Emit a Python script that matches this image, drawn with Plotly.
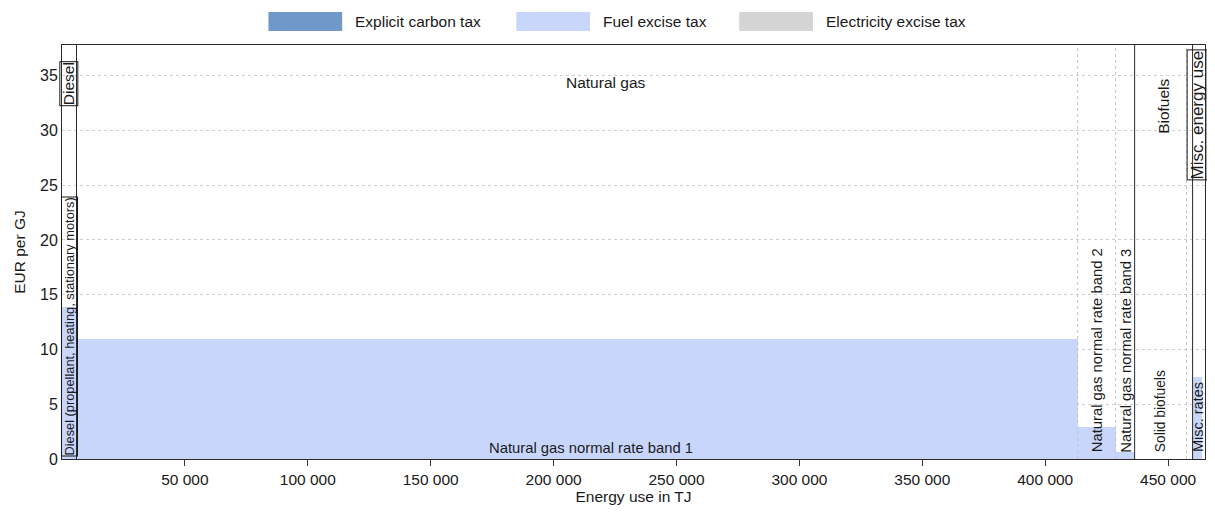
import numpy as np
import plotly.graph_objects as go

# ---------------- data ----------------
segments = ["Diesel (propellant, heating, stationary motors)",
            "Natural gas normal rate band 1",
            "Natural gas normal rate band 2",
            "Natural gas normal rate band 3",
            "Solid biofuels",
            "Other biofuels",
            "Misc. rates"]
segment_labels = ["Diesel (propellant, heating, stationary motors)",
                  "Natural gas normal rate band 1",
                  "Natural gas normal rate band 2",
                  "Natural gas normal rate band 3",
                  "Solid biofuels",
                  "",
                  "Misc. rates"]
segment_category = ["Diesel", "Natural gas", "Natural gas", "Natural gas",
                    "Biofuels", "Biofuels", "Misc. energy use"]
energy_tj = [5900, 407300, 15450, 7720, 21140, 2440, 4000]
carbon_tax = [0, 0, 0, 0, 0, 0, 0]
fuel_excise_tax = [13.9, 11.0, 2.95, 0.6, 0, 0, 7.5]
electricity_tax = [0, 0, 0, 0, 0, 0, 0]

x_tick_vals = [50000, 100000, 150000, 200000, 250000, 300000, 350000, 400000, 450000]
x_tick_text = ["50 000", "100 000", "150 000", "200 000", "250 000",
               "300 000", "350 000", "400 000", "450 000"]
y_tick_vals = [0, 5, 10, 15, 20, 25, 30, 35]

legend_names = ["Explicit carbon tax", "Fuel excise tax", "Electricity excise tax"]
colors = ["#7098c8", "#c8d6fc", "#d4d4d4"]

# ---------------- geometry from data ----------------
w = np.array(energy_tj, dtype=float)
ends = np.cumsum(w)
starts = ends - w
mids = starts + w / 2
x_max = 465000
y_max = 37.8

FONT = "Liberation Sans, Arial, sans-serif"
TXT = "#1a1a1a"

fig = go.Figure()
for name, vals, col in zip(legend_names, [carbon_tax, fuel_excise_tax, electricity_tax], colors):
    fig.add_trace(go.Bar(x=mids, y=vals, width=w, name=name,
                         marker=dict(color=col, line=dict(width=0)),
                         showlegend=False, hovertext=segments))

shapes = []
annotations = []
# vertical separators
for i in range(len(segments) - 1):
    solid = segment_category[i] != segment_category[i + 1]
    shapes.append(dict(type="line", xref="x", yref="paper", x0=ends[i], x1=ends[i],
                       y0=0, y1=1,
                       line=dict(color="#2a2a2a" if solid else "#c4c4c4",
                                 width=1,
                                 dash="solid" if solid else "dot"),
                       layer="above"))

# category labels
cats = []
for c in segment_category:
    if c not in cats:
        cats.append(c)
for c in cats:
    idx = [i for i, s in enumerate(segment_category) if s == c]
    cx = (starts[idx[0]] + ends[idx[-1]]) / 2
    if c == "Natural gas":
        annotations.append(dict(x=cx, y=34.4, xref="x", yref="y", text=c, showarrow=False,
                                font=dict(size=15.5, color=TXT, family=FONT)))
    elif c == "Diesel":
        annotations.append(dict(x=cx, y=36.3, xref="x", yref="y", text=c, showarrow=False,
                                textangle=-90, yanchor="top", borderpad=0,
                                bordercolor="#1a1a1a", borderwidth=1,
                                font=dict(size=15.5, color=TXT, family=FONT)))
    elif c == "Biofuels":
        annotations.append(dict(x=cx, y=34.9, xref="x", yref="y", text=c, showarrow=False,
                                textangle=-90, yanchor="top",
                                font=dict(size=15.5, color=TXT, family=FONT)))
    else:
        annotations.append(dict(x=cx, y=37.4, xref="x", yref="y", text=c, showarrow=False,
                                textangle=-90, yanchor="top", borderpad=0,
                                bordercolor="#1a1a1a", borderwidth=1,
                                font=dict(size=17, color=TXT, family=FONT)))

# segment labels
sub_sizes = [12.8, 14.8, 14.8, 14.8, 13.8, 13, 14.5]
for i, lab in enumerate(segment_labels):
    if not lab:
        continue
    if i == 1:
        annotations.append(dict(x=mids[i], y=0.05, xref="x", yref="y", text=lab,
                                showarrow=False, yanchor="bottom", xshift=14,
                                font=dict(size=sub_sizes[i], color=TXT, family=FONT)))
    elif i == 0:
        annotations.append(dict(x=mids[i], y=0.25, xref="x", yref="y", text=lab,
                                showarrow=False, textangle=-90, yanchor="bottom",
                                borderpad=0, bordercolor="#1a1a1a", borderwidth=1,
                                font=dict(size=sub_sizes[i], color=TXT, family=FONT)))
    else:
        annotations.append(dict(x=mids[i], y=0.4, xref="x", yref="y", text=lab,
                                showarrow=False, textangle=-90, yanchor="bottom",
                                font=dict(size=sub_sizes[i], color=TXT, family=FONT)))

# manual legend (wide swatches)
sw_x0 = [0.1806, 0.3975, 0.5925]
sw_w = 0.0645
for x0, name, col in zip(sw_x0, legend_names, colors):
    shapes.append(dict(type="rect", xref="paper", yref="paper", x0=x0, x1=x0 + sw_w,
                       y0=1.0338, y1=1.0796, fillcolor=col, line=dict(width=0)))
    annotations.append(dict(x=x0 + sw_w + 0.0095, y=1.0567, xref="paper", yref="paper",
                            text=name, showarrow=False, xanchor="left", yanchor="middle",
                            font=dict(size=15.5, color=TXT, family=FONT)))

fig.update_layout(
    width=1199, height=497,
    margin=dict(l=54, r=2, t=37, b=45.5),
    paper_bgcolor="white", plot_bgcolor="white",
    barmode="stack", bargap=0,
    showlegend=False,
    shapes=shapes, annotations=annotations,
    font=dict(family=FONT, color=TXT, size=15),
    xaxis=dict(range=[0, x_max], tickvals=x_tick_vals, ticktext=x_tick_text,
               ticks="outside", ticklen=6, tickcolor="#3a3a3a",
               showgrid=False, zeroline=False,
               showline=True, linecolor="#2a2a2a", linewidth=1, mirror=True,
               tickfont=dict(size=15.5, color=TXT),
               title=dict(text="Energy use in TJ", standoff=2, font=dict(size=15.5, color=TXT))),
    yaxis=dict(range=[0, y_max], tickvals=y_tick_vals, ticks="",
               showgrid=True, gridcolor="#d0d0d0", griddash="dot", gridwidth=1,
               zeroline=False,
               showline=True, linecolor="#2a2a2a", linewidth=1, mirror=True,
               tickfont=dict(size=16, color=TXT),
               title=dict(text="EUR per GJ", standoff=10, font=dict(size=15.5, color=TXT))),
)

fig.write_html("out.html")
